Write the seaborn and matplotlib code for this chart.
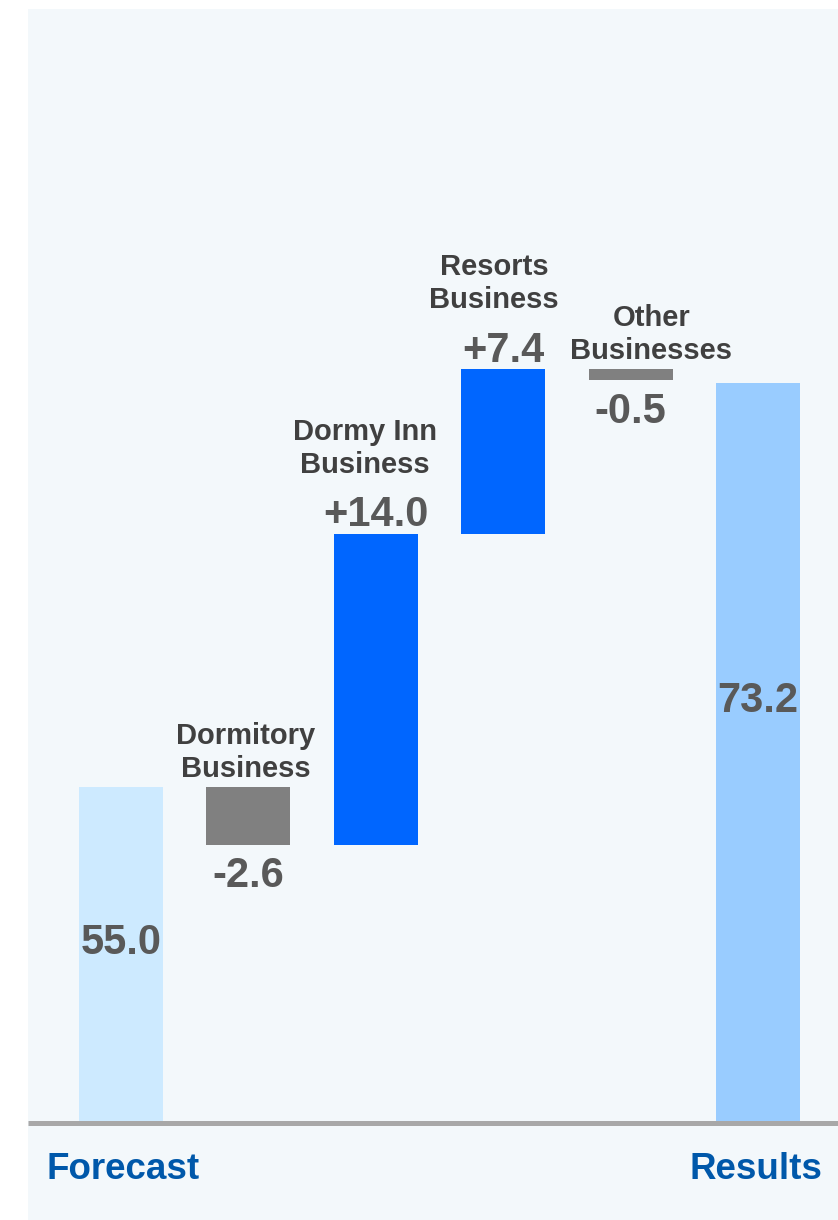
import matplotlib
matplotlib.use("Agg")
import matplotlib.pyplot as plt
from matplotlib.patches import Rectangle
import seaborn as sns
import numpy as np

# data
categorias = ["Forecast", "Dormitory\nBusiness", "Dormy Inn\nBusiness",
              "Resorts\nBusiness", "Other\nBusinesses", "Results"]
inicio = 55.0
variaciones = [-2.6, 14.0, 7.4, -0.5]
resultado = 73.2
colores = ["#cdeaff", "#808080", "#0066ff", "#0066ff", "#808080", "#99ccff"]

sns.set_style("white")
plt.rcParams["font.family"] = ["Liberation Sans", "DejaVu Sans"]
plt.rcParams["font.weight"] = "bold"

# tramos del waterfall
acumulado = inicio + np.cumsum(variaciones)
previo = np.concatenate([[inicio], acumulado[:-1]])
techos = [inicio] + list(np.maximum(previo, acumulado)) + [resultado]
pisos = [0] + list(np.minimum(previo, acumulado)) + [0]

fig = plt.figure(figsize=(8.38, 12.2), dpi=100)
fig.patch.set_facecolor("white")
fig.patches.append(Rectangle((28 / 838, 0), 1 - 28 / 838, 1 - 9 / 1220,
                             transform=fig.transFigure, facecolor="#f3f8fb",
                             edgecolor="none", zorder=-1))
ax = fig.add_axes([28 / 838, 99 / 1220, 1 - 28 / 838, 1112 / 1220])
ax.set_facecolor("none")

x_idx = list(range(len(categorias)))
sns.barplot(x=x_idx, y=techos, hue=x_idx, palette=colores, legend=False,
            width=0.66, saturation=1, ax=ax, zorder=2)
for p, piso, techo in zip(ax.patches, pisos, techos):
    p.set_y(piso)
    p.set_height(techo - piso)
    p.set_edgecolor("none")

ax.set_ylim(40, 90)
ax.set_xlim(-0.73, 5.628)
ax.set_yticks([])
ax.set_ylabel("")
for s in ax.spines.values():
    s.set_visible(False)
ax.axhline(39.89, color="#a8a8a8", lw=3.6, zorder=3, clip_on=False,
           solid_capstyle="butt")

ax.set_xticks([0.02, 4.98])
ax.set_xticklabels(["Forecast", "Results"], fontsize=26.5,
                   color="#0058aa", fontweight="bold")
ax.tick_params(axis="x", length=0, pad=22)

col_valor = "#595959"
col_cat = "#404040"

# totales dentro de las barras
ax.text(0, 48.0, f"{inicio:.1f}", ha="center", va="center",
        fontsize=30, color=col_valor, fontweight="bold", zorder=4)
ax.text(5, 58.9, f"{resultado:.1f}", ha="center", va="center",
        fontsize=30, color=col_valor, fontweight="bold", zorder=4)

# desplazamiento horizontal de las etiquetas de categoria (pt)
dx_cat = [-2, -8, -6.5, 15]

for i, v in enumerate(variaciones):
    xi = i + 1
    techo, piso = techos[xi], pisos[xi]
    etiqueta = f"{v:+.1f}"
    if v > 0:
        ax.annotate(etiqueta, (xi, techo), xytext=(0, 5.5),
                    textcoords="offset points", ha="center", va="baseline",
                    fontsize=30, color=col_valor, fontweight="bold")
        off_cat = 39.5
    else:
        ax.annotate(etiqueta, (xi, piso), xytext=(0, -8),
                    textcoords="offset points", ha="center", va="top",
                    fontsize=30, color=col_valor, fontweight="bold")
        off_cat = 3
    ax.annotate(categorias[xi], (xi, techo), xytext=(dx_cat[i], off_cat),
                textcoords="offset points", ha="center", va="bottom",
                fontsize=21, color=col_cat, fontweight="bold",
                linespacing=1.25)

ax.set_xlabel("")
fig.savefig("out.png", dpi=100)
plt.close(fig)
